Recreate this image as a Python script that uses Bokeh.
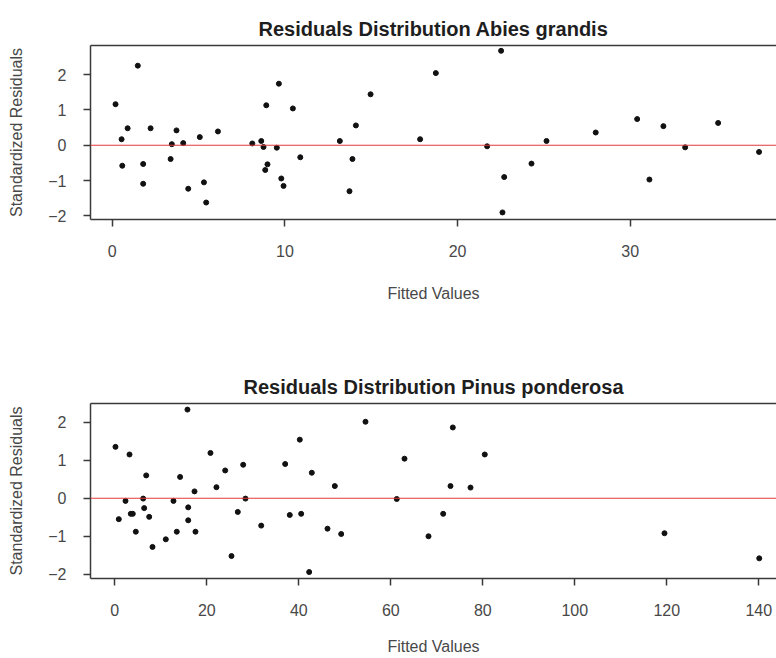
from bokeh.plotting import figure
from bokeh.layouts import column
from bokeh.models import FixedTicker, LinearAxis, Span, Range1d
from bokeh.embed import file_html
from bokeh.resources import INLINE

# ---- data ----
abies_fitted = [0.19, 1.48, 0.54, 0.89, 0.58, 1.79, 1.79, 2.22, 3.38, 3.45,
                3.72, 4.11, 4.40, 5.07, 5.31, 5.44, 6.12, 8.11, 8.63, 8.76,
                8.92, 8.99, 8.86, 9.53, 9.65, 9.79, 9.92, 10.46, 10.89,
                13.18, 13.91, 13.74, 14.11, 14.96, 17.83, 18.74, 21.71, 22.52,
                22.70, 22.60, 24.28, 25.15, 28.0, 30.40, 31.11, 31.92, 33.18,
                35.09, 37.46]
abies_resid = [1.16, 2.25, 0.17, 0.48, -0.58, -0.53, -1.09, 0.48, -0.39, 0.03,
               0.42, 0.06, -1.23, 0.23, -1.05, -1.62, 0.39, 0.05, 0.12, -0.05,
               1.13, -0.54, -0.70, -0.07, 1.74, -0.94, -1.15, 1.04, -0.34,
               0.12, -0.39, -1.30, 0.56, 1.44, 0.17, 2.04, -0.03, 2.67,
               -0.90, -1.90, -0.52, 0.12, 0.36, 0.74, -0.97, 0.54, -0.06,
               0.63, -0.19]

pinus_fitted = [0.15, 0.87, 2.33, 3.2, 3.48, 3.91, 4.57, 6.17, 6.39, 6.83,
                7.48, 8.2, 11.09, 12.76, 13.48, 14.2, 15.8, 15.96, 15.96, 17.33,
                17.54, 20.8, 22.1, 24.0, 25.37, 26.74, 27.91, 28.41, 31.83,
                37.04, 38.04, 40.22, 40.52, 42.83, 42.26, 46.24, 47.83, 49.22,
                54.5, 61.3, 62.98, 68.2, 71.39, 72.98, 73.48, 77.33, 80.43,
                119.5, 140.1]
pinus_resid = [1.35, -0.55, -0.07, 1.15, -0.41, -0.41, -0.88, -0.01, -0.26, 0.60,
               -0.49, -1.28, -1.08, -0.07, -0.88, 0.56, 2.33, -0.24, -0.58, 0.18,
               -0.88, 1.19, 0.29, 0.73, -1.52, -0.36, 0.88, -0.01, -0.72,
               0.90, -0.44, 1.54, -0.41, 0.67, -1.94, -0.80, 0.32, -0.94,
               2.01, -0.02, 1.04, -1.0, -0.41, 0.32, 1.86, 0.28, 1.15,
               -0.92, -1.58]

abies_xticks = [0, 10, 20, 30]
pinus_xticks = [0, 20, 40, 60, 80, 100, 120, 140]
resid_yticks = [-2, -1, 0, 1, 2]

titles = ["Residuals Distribution Abies grandis",
          "Residuals Distribution Pinus ponderosa"]
x_label = "Fitted Values"
y_label = "Standardized Residuals"

FONT = "Liberation Sans"
INK = "#3a3a3a"


def style_axis(ax, ticks):
    ax.ticker = FixedTicker(ticks=ticks)
    ax.axis_line_color = INK
    ax.axis_line_width = 1.5
    ax.major_tick_line_color = INK
    ax.major_tick_line_width = 1.5
    ax.major_tick_out = 7
    ax.major_tick_in = 0
    ax.minor_tick_line_color = None
    ax.major_label_text_font = FONT
    ax.major_label_text_font_size = "16px"
    ax.major_label_text_color = "#484848"
    ax.axis_label_text_font = FONT
    ax.axis_label_text_font_size = "16px"
    ax.axis_label_text_font_style = "normal"
    ax.axis_label_text_color = "#484848"


def make_panel(title, xs, ys, xticks, xr, yr, height, top, bottom, xlab_standoff):
    p = figure(width=776, height=height, output_backend="svg", toolbar_location=None,
               x_range=Range1d(*xr), y_range=Range1d(*yr),
               min_border_left=90, min_border_right=0,
               min_border_top=top, min_border_bottom=bottom,
               background_fill_color="white", border_fill_color="white")
    p.outline_line_color = None
    p.grid.visible = False

    p.title.text = title
    p.title.text_font = FONT
    p.title.text_font_size = "20px"
    p.title.text_font_style = "bold"
    p.title.text_color = "#1e1e1e"
    p.title.align = "center"
    p.title.offset = 3
    p.title.standoff = 11

    style_axis(p.xaxis[0], xticks)
    p.xaxis[0].axis_label = x_label
    p.xaxis[0].major_label_standoff = 18
    p.xaxis[0].axis_label_standoff = xlab_standoff

    style_axis(p.yaxis[0], resid_yticks)
    p.yaxis[0].axis_label = y_label
    p.yaxis[0].major_label_standoff = 17
    p.yaxis[0].axis_label_standoff = 20

    # top side of the box
    top_ax = LinearAxis(ticker=FixedTicker(ticks=[]))
    top_ax.axis_line_color = INK
    top_ax.axis_line_width = 1.5
    top_ax.major_label_text_font_size = "0px"
    top_ax.major_tick_line_color = None
    top_ax.minor_tick_line_color = None
    p.add_layout(top_ax, "above")

    p.add_layout(Span(location=0, dimension="width", line_color="#e23a3a", line_width=1.2))
    p.scatter(xs, ys, size=5, color="#111111", line_color="#111111")
    return p


p1 = make_panel(titles[0], abies_fitted, abies_resid, abies_xticks,
                (-1.26, 38.47), (-2.10, 2.82), 330, 45, 111, 25)
p2 = make_panel(titles[1], pinus_fitted, pinus_resid, pinus_xticks,
                (-5.28, 143.85), (-2.11, 2.49), 328, 73, 80, 19)

layout = column(p1, p2, spacing=0)
open("out.html", "w").write(file_html(layout, INLINE))
